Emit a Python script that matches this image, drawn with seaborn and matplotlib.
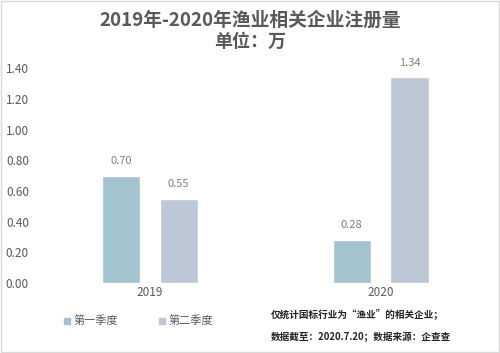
import numpy as np
import pandas as pd
import matplotlib
matplotlib.use("Agg")
import matplotlib.pyplot as plt
import seaborn as sns

years = ["2019", "2020"]
quarters = ["第一季度", "第二季度"]
q1_values = [0.70, 0.28]
q2_values = [0.55, 1.34]
colors = ["#a3c3cf", "#bcc8d6"]

df = pd.DataFrame({
    "年份": years * 2,
    "季度": [quarters[0]] * 2 + [quarters[1]] * 2,
    "数量": q1_values + q2_values,
})

sns.set_theme(style="white")
plt.rcParams["font.family"] = ["Noto Sans CJK SC", "DejaVu Sans"]

fig = plt.figure(figsize=(5, 3.53), dpi=100)
ax = fig.add_axes([0.069, 0.198, 0.923, 0.609])

sns.barplot(data=df, x="年份", y="数量", hue="季度", palette=colors,
            width=0.5, gap=0.34, ax=ax, legend=False, saturation=1)

for cont in ax.containers:
    ax.bar_label(cont, fmt="%.2f", padding=7, fontsize=8, color="#7f7f7f")

ax.set_ylim(0, 1.4)
ax.set_xlim(-0.5, 1.5)
ticks = np.arange(0, 1.41, 0.2)
ax.set_yticks(ticks)
ax.set_yticklabels([f"{v:.2f}" for v in ticks])
ax.tick_params(axis="y", labelsize=8.5, labelcolor="#595959", pad=4, length=0)
ax.tick_params(axis="x", labelsize=8.5, labelcolor="#595959", pad=2, length=0)
ax.set_xlabel("")
ax.set_ylabel("")
sns.despine(ax=ax, left=True, bottom=True, top=True, right=True)

fig.text(0.5, 0.942, "2019年-2020年渔业相关企业注册量", ha="center", va="center",
         fontsize=13.5, fontweight="bold", color="#595959")
fig.text(0.5, 0.884, "单位：万", ha="center", va="center",
         fontsize=13, fontweight="bold", color="#595959")

# legend
for i, (q, c) in enumerate(zip(quarters, colors)):
    x0 = 0.128 + i * 0.19
    fig.patches.append(plt.Rectangle((x0, 0.083), 0.012, 0.017, transform=fig.transFigure,
                                     color=c, figure=fig))
    fig.text(x0 + 0.02, 0.091, q, ha="left", va="center", fontsize=8, color="#595959")

fig.text(0.542, 0.108, "仅统计国标行业为“渔业”的相关企业；", ha="left", va="center",
         fontsize=6.9, fontweight="bold", color="#222222")
fig.text(0.542, 0.045, "数据截至：2020.7.20；数据来源：企查查", ha="left", va="center",
         fontsize=6.9, fontweight="bold", color="#222222")

fig.patches.append(plt.Rectangle((0.002, 0.003), 0.996, 0.994, transform=fig.transFigure,
                                 fill=False, edgecolor="#d9d9d9", linewidth=1, figure=fig))

fig.savefig("out.png", dpi=100)
